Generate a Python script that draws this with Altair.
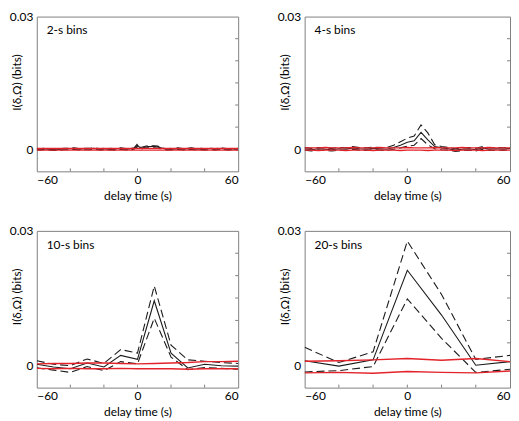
import altair as alt
import pandas as pd

FONT = "Lato"
RED = "#e3232a"
BLACK = "#1c1c1c"
GRAY = "#7f7f7f"

# ---------------- data ----------------
# 2-s bins
t1 = list(range(-60, 61, 2))
mean1 = [0.0001, 0.0000, 0.0001, 0.0000, 0.0000, -0.0001, -0.0001, 0.0000, 0.0001, 0.0001,
         0.0001, 0.0002, 0.0001, 0.0000, 0.0001, 0.0001, 0.0001, 0.0002, 0.0001, 0.0000,
         0.0001, 0.0000, 0.0001, 0.0000, 0.0001, 0.0002, 0.0001, 0.0000, 0.0001, 0.0002,
         0.0009, 0.0002, 0.0004, 0.0006, 0.0006, 0.0006, 0.0005, 0.0003, 0.0001, 0.0000,
         0.0001, 0.0000, 0.0002, 0.0001, 0.0000, 0.0001, 0.0002, 0.0001, 0.0000, 0.0001,
         0.0000, 0.0001, 0.0001, 0.0000, 0.0001, 0.0002, 0.0001, 0.0000, 0.0001, 0.0000,
         0.0001]
upper1 = [0.0002, 0.0001, 0.0002, 0.0001, 0.0001, 0.0000, 0.0000, 0.0001, 0.0002, 0.0002,
          0.0002, 0.0003, 0.0002, 0.0001, 0.0002, 0.0002, 0.0002, 0.0003, 0.0002, 0.0001,
          0.0002, 0.0001, 0.0002, 0.0001, 0.0002, 0.0003, 0.0002, 0.0001, 0.0002, 0.0003,
          0.0012, 0.0004, 0.0006, 0.0008, 0.0008, 0.0008, 0.0007, 0.0004, 0.0002, 0.0001,
          0.0002, 0.0001, 0.0003, 0.0002, 0.0001, 0.0002, 0.0003, 0.0002, 0.0001, 0.0002,
          0.0001, 0.0002, 0.0002, 0.0001, 0.0002, 0.0003, 0.0002, 0.0001, 0.0002, 0.0001,
          0.0002]
lower1 = [-0.0001, -0.0002, -0.0001, -0.0002, -0.0002, -0.0003, -0.0003, -0.0002, -0.0001, -0.0001,
          -0.0001, 0.0000, -0.0001, -0.0002, -0.0001, -0.0001, -0.0001, 0.0000, -0.0001, -0.0002,
          -0.0001, -0.0002, -0.0001, -0.0002, -0.0001, 0.0000, -0.0001, -0.0002, -0.0001, 0.0000,
          0.0006, 0.0000, 0.0002, 0.0003, 0.0003, 0.0003, 0.0002, 0.0001, -0.0001, -0.0002,
          -0.0001, -0.0002, 0.0000, -0.0001, -0.0002, -0.0001, 0.0000, -0.0001, -0.0002, -0.0001,
          -0.0002, -0.0001, -0.0001, -0.0002, -0.0001, 0.0000, -0.0001, -0.0002, -0.0001, -0.0002,
          -0.0001]
redhi1 = [0.0002] * 61
redlo1 = [-0.0002] * 61

# 4-s bins
t2 = list(range(-60, 61, 4))
mean2 = [0.0001, -0.0001, 0.0001, 0.0000, -0.0001, 0.0001, 0.0000, 0.0003, 0.0001, 0.0000,
         0.0002, 0.0001, 0.0000, 0.0004, 0.0009, 0.0016, 0.0019, 0.0038, 0.0021, 0.0006,
         0.0003, 0.0001, -0.0002, 0.0000, 0.0001, -0.0001, 0.0003, 0.0000, 0.0001, 0.0000,
         0.0002]
upper2 = [0.0004, 0.0002, 0.0004, 0.0003, 0.0002, 0.0004, 0.0003, 0.0006, 0.0004, 0.0003,
          0.0005, 0.0004, 0.0004, 0.0009, 0.0017, 0.0025, 0.0030, 0.0055, 0.0037, 0.0010,
          0.0006, 0.0004, 0.0001, 0.0003, 0.0004, 0.0002, 0.0006, 0.0003, 0.0004, 0.0003,
          0.0005]
lower2 = [-0.0002, -0.0004, -0.0002, -0.0003, -0.0004, -0.0002, -0.0003, 0.0000, -0.0002, -0.0003,
          -0.0001, -0.0002, -0.0003, 0.0000, 0.0003, 0.0007, 0.0009, 0.0024, 0.0010, 0.0001,
          -0.0001, -0.0002, -0.0005, -0.0003, -0.0002, -0.0004, 0.0000, -0.0003, -0.0002, -0.0003,
          -0.0001]
redhi2 = [0.0003, 0.0003, 0.0003, 0.0004, 0.0003, 0.0003, 0.0003, 0.0004, 0.0003, 0.0003,
          0.0003, 0.0004, 0.0003, 0.0003, 0.0003, 0.0004, 0.0003, 0.0003, 0.0003, 0.0004,
          0.0003, 0.0003, 0.0003, 0.0004, 0.0003, 0.0003, 0.0003, 0.0004, 0.0003, 0.0003,
          0.0003]
redlo2 = [-0.0002, -0.0002, -0.0003, -0.0002, -0.0002, -0.0002, -0.0003, -0.0002, -0.0002, -0.0002,
          -0.0003, -0.0002, -0.0002, -0.0002, -0.0003, -0.0002, -0.0002, -0.0002, -0.0003, -0.0002,
          -0.0002, -0.0002, -0.0003, -0.0002, -0.0002, -0.0002, -0.0003, -0.0002, -0.0002, -0.0002,
          -0.0002]

# 10-s bins
t3 = [-60, -50, -40, -30, -20, -10, 0, 10, 20, 30, 40, 50, 60]
mean3 = [0.0002, -0.0004, -0.0008, 0.0005, -0.0004, 0.0022, 0.0013, 0.0144, 0.0027, -0.0006, 0.0002, -0.0001, -0.0002]
upper3 = [0.0010, 0.0002, -0.0001, 0.0014, 0.0004, 0.0035, 0.0027, 0.0177, 0.0045, 0.0012, 0.0009, 0.0006, 0.0004]
lower3 = [-0.0006, -0.0011, -0.0016, -0.0003, -0.0012, 0.0008, 0.0003, 0.0105, 0.0018, -0.0010, -0.0005, -0.0007, -0.0009]
redhi3 = [0.0003, 0.0004, 0.0004, 0.0005, 0.0005, 0.0004, 0.0003, 0.0004, 0.0005, 0.0006, 0.0008, 0.0008, 0.0009]
redlo3 = [-0.0007, -0.0008, -0.0007, -0.0008, -0.0008, -0.0007, -0.0008, -0.0008, -0.0008, -0.0009, -0.0008, -0.0008, -0.0008]

# 20-s bins
t4 = [-60, -40, -20, 0, 20, 40, 60]
mean4 = [0.0010, -0.0002, 0.0012, 0.0212, 0.0112, 0.0000, 0.0008]
upper4 = [0.0040, 0.0006, 0.0030, 0.0277, 0.0158, 0.0013, 0.0022]
lower4 = [-0.0015, -0.0012, -0.0003, 0.0148, 0.0060, -0.0016, -0.0009]
redhi4 = [0.0009, 0.0010, 0.0012, 0.0015, 0.0011, 0.0015, 0.0008]
redlo4 = [-0.0017, -0.0016, -0.0018, -0.0014, -0.0016, -0.0017, -0.0013]

labels = ["2-s bins", "4-s bins", "10-s bins", "20-s bins"]
x_labels = [-60, 0, 60]
y_labels = [0, 0.03]
x_minor = [-40, -20, 0, 20, 40]
y_minor = [0.005, 0.01, 0.015, 0.02, 0.025]


def panel(t, mean, upper, lower, redhi, redlo, label, w, h):
    rows = []
    for name, vals in [("mean", mean), ("upper", upper), ("lower", lower),
                       ("redhi", redhi), ("redlo", redlo)]:
        for ti, vi in zip(t, vals):
            rows.append({"t": ti, "v": vi, "series": name})
    df = pd.DataFrame(rows)

    xenc = alt.X("t:Q", scale=alt.Scale(domain=[-60, 60], nice=False, zero=False),
                 axis=alt.Axis(values=x_labels, ticks=False, domain=False, grid=False,
                               labelPadding=3, title="delay time (s)",
                               titleY=24, titleBaseline="middle"))
    yenc = alt.Y("v:Q", scale=alt.Scale(domain=[-0.005, 0.03], nice=False, zero=False),
                 axis=alt.Axis(values=y_labels, format=".2~f", ticks=False, domain=False,
                               grid=False, labelPadding=4, title="I(δ,Ω) (bits)",
                               titleX=-20, titleY=round(h * 0.42), titleBaseline="middle"))

    base = alt.Chart(df)
    red = base.transform_filter(
        alt.FieldOneOfPredicate(field="series", oneOf=["redhi", "redlo"])
    ).mark_line(color=RED, strokeWidth=1.4, clip=True).encode(x=xenc, y=yenc, detail="series:N")
    solid = base.transform_filter(alt.datum.series == "mean").mark_line(
        color=BLACK, strokeWidth=1.1, clip=True).encode(x=xenc, y=yenc)
    dashed = base.transform_filter(
        alt.FieldOneOfPredicate(field="series", oneOf=["upper", "lower"])
    ).mark_line(color=BLACK, strokeWidth=1.1, strokeDash=[8, 4], clip=True).encode(
        x=xenc, y=yenc, detail="series:N")

    xt = alt.Chart(pd.DataFrame({"t": x_minor})).mark_rule(color=GRAY).encode(
        x=xenc, y=alt.value(h - 3), y2=alt.value(h))
    yt = alt.Chart(pd.DataFrame({"v": y_minor})).mark_rule(color=GRAY).encode(
        y=yenc, x=alt.value(w - 3), x2=alt.value(w))
    txt = alt.Chart(pd.DataFrame({"label": [label]})).mark_text(
        align="left", baseline="middle", fontSize=12, font=FONT, color="black"
    ).encode(x=alt.value(10), y=alt.value(14), text="label:N")

    return alt.layer(dashed, solid, red, xt, yt, txt).properties(width=w, height=h)


p1 = panel(t1, mean1, upper1, lower1, redhi1, redlo1, labels[0], 203, 156)
p2 = panel(t2, mean2, upper2, lower2, redhi2, redlo2, labels[1], 207, 156)
p3 = panel(t3, mean3, upper3, lower3, redhi3, redlo3, labels[2], 203, 158)
p4 = panel(t4, mean4, upper4, lower4, redhi4, redlo4, labels[3], 207, 158)

chart = alt.concat(
    p1, p2, p3, p4, columns=2, spacing={"row": 60, "column": 67}, bounds="flush"
).properties(
    padding=0, background="white"
).configure_view(
    stroke=GRAY, strokeWidth=1
).configure_axis(
    labelFont=FONT, titleFont=FONT, labelFontSize=12, titleFontSize=12,
    labelColor="black", titleColor="black", titleFontWeight="normal"
)

chart.save("out.html", embed_options={"renderer": "svg", "actions": False})
